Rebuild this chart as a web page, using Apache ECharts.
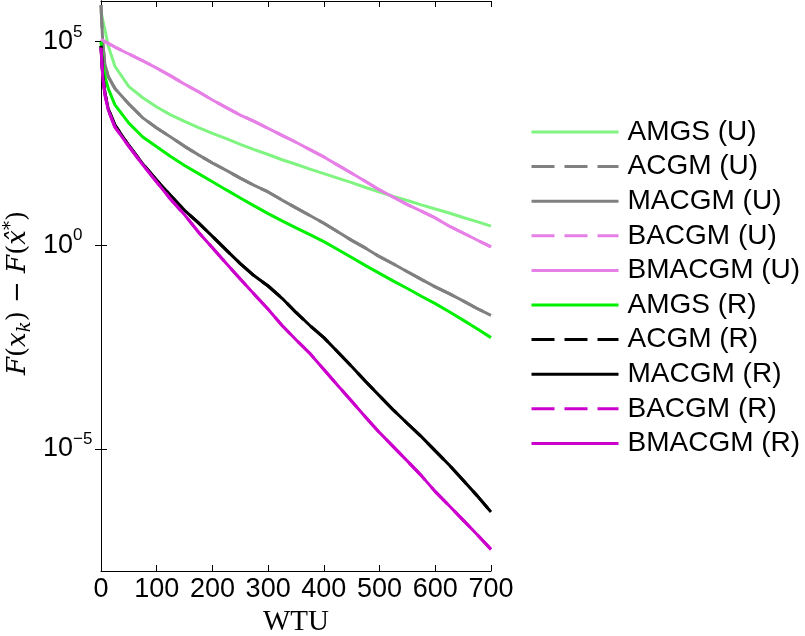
<!DOCTYPE html>
<html>
<head>
<meta charset="utf-8">
<script src="https://cdn.jsdelivr.net/npm/echarts@6/dist/echarts.min.js"></script>
<style>
  html, body { margin: 0; padding: 0; background: #fff; }
  #chart { width: 805px; height: 636px; }
</style>
</head>
<body>
<div id="chart"></div>
<script>
// WTU sample points shared by all curves
const wtu = [0, 3, 7, 13, 25, 50, 75, 100, 125, 150, 175, 200, 225, 250, 275, 300,
  325, 350, 375, 400, 425, 450, 475, 500, 525, 550, 575, 600, 625, 650, 675, 700];

// F(x_k) - F(x*)
const amgsU = [5.6e5, 3.5e5, 2.0e5, 7.9e4, 2.5e4, 7.9e3, 4.2e3, 2.5e3, 1.6e3, 1.1e3, 780, 562,
  417, 302, 224, 170, 126, 98, 74, 57.5, 44.7, 34.7, 26.3, 20.4, 15.8, 12.6, 9.8, 7.8, 6.2, 4.8, 3.8, 2.95];
const macgmU = [7.9e5, 1.0e5, 2.8e4, 1.4e4, 7.1e3, 2.95e3, 1.35e3, 759, 457, 269, 166, 105,
  69, 44.7, 29.5, 20.4, 12.9, 8.3, 5.4, 3.47, 2.14, 1.32, 0.85, 0.525, 0.347, 0.224, 0.145, 0.095,
  0.065, 0.043, 0.028, 0.019];
const acgmU = macgmU;
const bmacgmU = [1.15e5, 1.1e5, 1.0e5, 9.1e4, 7.4e4, 5.0e4, 3.4e4, 2.24e4, 1.45e4, 9.1e3, 5.9e3,
  3.7e3, 2.4e3, 1.58e3, 1.1e3, 741, 501, 339, 224, 148, 93, 59, 37, 22.9, 15.1, 10, 6.9, 4.7,
  2.95, 2.0, 1.35, 0.91];
const bacgmU = bmacgmU;
const amgsR = [1.0e5, 3.2e4, 1.4e4, 7.1e3, 2.8e3, 1.0e3, 457, 263, 151, 91, 57.5, 36.3, 22.9,
  14.5, 9.3, 6.0, 3.98, 2.69, 1.82, 1.23, 0.79, 0.5, 0.316, 0.204, 0.132, 0.087, 0.056, 0.037,
  0.0234, 0.0145, 0.0089, 0.0054];
const macgmR = [7.9e4, 1.58e4, 5.6e3, 2.24e3, 891, 282, 100, 39.8, 16.6, 7.2, 3.55, 1.66, 0.76,
  0.355, 0.178, 0.1, 0.05, 0.0224, 0.0107, 0.0054, 0.0024, 0.00105, 4.5e-4, 2.0e-4, 8.9e-5,
  4.2e-5, 2.0e-5, 8.9e-6, 4.0e-6, 1.7e-6, 7.1e-7, 2.8e-7];
const acgmR = macgmR;
const bmacgmR = [7.1e4, 1.41e4, 5.0e3, 2.1e3, 794, 269, 95, 35.5, 13.5, 5.6, 2.1, 0.87, 0.355,
  0.148, 0.063, 0.0269, 0.0107, 0.0048, 0.0022, 8.9e-4, 3.6e-4, 1.48e-4, 6.0e-5, 2.5e-5,
  1.12e-5, 5.0e-6, 2.2e-6, 8.9e-7, 4.0e-7, 1.78e-7, 7.9e-8, 3.4e-8];
const bacgmR = bmacgmR;

const yTicks = [1e-5, 1, 1e5];

const lines = [
  {name: 'AMGS (U)', data: amgsU, color: '#80f480', dash: 'solid'},
  {name: 'ACGM (U)', data: acgmU, color: '#808080', dash: [23, 10]},
  {name: 'MACGM (U)', data: macgmU, color: '#808080', dash: 'solid'},
  {name: 'BACGM (U)', data: bacgmU, color: '#e680e6', dash: [23, 10]},
  {name: 'BMACGM (U)', data: bmacgmU, color: '#e680e6', dash: 'solid'},
  {name: 'AMGS (R)', data: amgsR, color: '#00f000', dash: 'solid'},
  {name: 'ACGM (R)', data: acgmR, color: '#000000', dash: [23, 10]},
  {name: 'MACGM (R)', data: macgmR, color: '#000000', dash: 'solid'},
  {name: 'BACGM (R)', data: bacgmR, color: '#cc00cc', dash: [23, 10]},
  {name: 'BMACGM (R)', data: bmacgmR, color: '#cc00cc', dash: 'solid'}
];

const sans = '"Liberation Sans", Arial, Helvetica, sans-serif';
const serif = '"Liberation Serif", "Times New Roman", serif';
const mathSerif = '"DejaVu Serif", serif';

const chart = echarts.init(document.getElementById('chart'));
const axisLine = {show: true, lineStyle: {color: '#000', width: 1}};
const tick = {show: true, inside: true, length: 6, lineStyle: {color: '#000'}};

const option = {
  animation: false,
  backgroundColor: '#fff',
  grid: {left: 101, top: 1, width: 390, height: 570, outerBoundsMode: 'none'},
  legend: {
    orient: 'vertical',
    left: 530,
    top: 118,
    padding: 0,
    itemWidth: 87,
    itemHeight: 14,
    itemGap: 6.6,
    // hide the marker dot that line series put in the legend icon
    itemStyle: {opacity: 0},
    lineStyle: {width: 3},
    textStyle: {fontFamily: sans, fontSize: 28, color: '#000', lineHeight: 28, padding: [0, 0, 0, 4]},
    data: lines.map(l => l.name)
  },
  xAxis: [
    {
      type: 'value', position: 'bottom', min: 0, max: 700, interval: 100,
      axisLine: axisLine, axisTick: tick, splitLine: {show: false},
      axisLabel: {fontFamily: sans, fontSize: 27, color: '#000', margin: 5},
      name: 'WTU', nameLocation: 'middle', nameGap: 37,
      nameTextStyle: {fontFamily: serif, fontSize: 29, color: '#000'}
    },
    {
      type: 'value', position: 'top', min: 0, max: 700, interval: 100,
      axisLine: axisLine, axisTick: tick, splitLine: {show: false},
      axisLabel: {show: false}
    }
  ],
  yAxis: [
    {
      type: 'log', logBase: 10, min: 1e-8, max: 1e6, position: 'left',
      axisLine: axisLine, splitLine: {show: false}, minorTick: {show: false},
      axisTick: Object.assign({customValues: yTicks}, tick),
      axisLabel: {
        customValues: yTicks,
        align: 'left',
        margin: 58,
        formatter: v => {
          const e = Math.round(Math.log10(v));
          return '{b|10}{s|' + (e < 0 ? '\u2212' + (-e) : e) + '}';
        },
        rich: {
          b: {fontFamily: sans, fontSize: 27, color: '#000', lineHeight: 36, verticalAlign: 'middle'},
          s: {fontFamily: sans, fontSize: 17, color: '#000', lineHeight: 36, verticalAlign: 'top'}
        }
      },
      name: '{i|F}{r|(}{i|x}{sub|k}{r|) \u2212 }{i|F}{r|(}{i|x\u0302}{sup|*}{r|)}',
      nameLocation: 'middle', nameRotate: 90, nameGap: 67,
      nameTextStyle: {
        padding: [0, 14, 0, 0],
        rich: {
          i: {fontFamily: mathSerif, fontStyle: 'italic', fontSize: 26, color: '#000', lineHeight: 32, verticalAlign: 'middle'},
          r: {fontFamily: mathSerif, fontSize: 26, color: '#000', lineHeight: 32, verticalAlign: 'middle'},
          sub: {fontFamily: mathSerif, fontStyle: 'italic', fontSize: 18, color: '#000', lineHeight: 32, verticalAlign: 'bottom'},
          sup: {fontFamily: mathSerif, fontSize: 18, color: '#000', lineHeight: 32, verticalAlign: 'top'}
        }
      }
    },
    {
      type: 'log', logBase: 10, min: 1e-8, max: 1e6, position: 'right',
      axisLine: axisLine, splitLine: {show: false}, minorTick: {show: false},
      axisTick: Object.assign({customValues: yTicks}, tick),
      axisLabel: {show: false}
    }
  ],
  series: lines.map(l => ({
    name: l.name,
    type: 'line',
    symbol: 'none',
    color: l.color,
    lineStyle: {color: l.color, width: 3, type: l.dash},
    data: wtu.map((x, i) => [x, l.data[i]])
  }))
};
chart.setOption(option);
</script>
</body>
</html>
